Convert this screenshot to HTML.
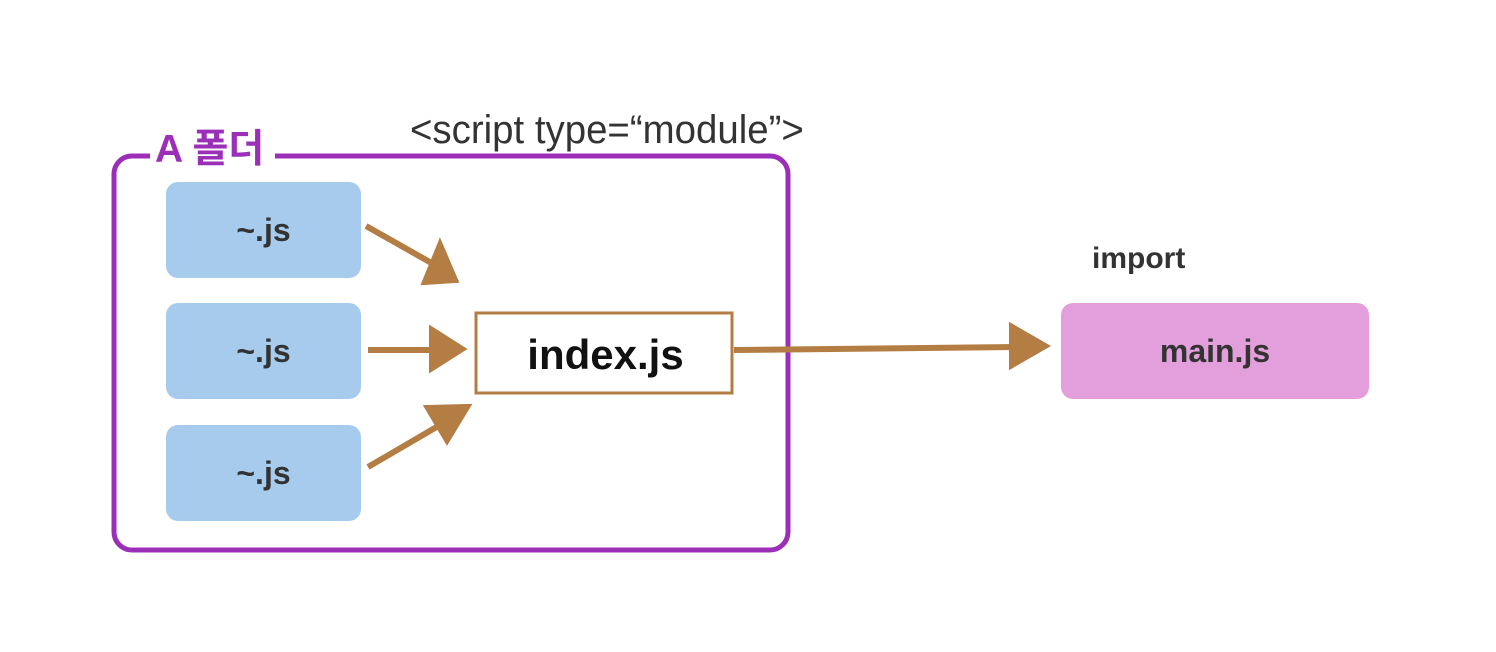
<!DOCTYPE html>
<html><head><meta charset="utf-8"><style>
body{margin:0;width:1496px;height:652px;background:#fff;position:relative;overflow:hidden;font-family:"Liberation Sans","Noto Sans CJK KR",sans-serif}
.b{position:absolute;background:#a6cbec;border-radius:12px;width:195px;height:96px;left:166px;display:flex;align-items:center;justify-content:center;font-weight:bold;font-size:32px;color:#333}
.t{position:absolute;white-space:nowrap}
</style></head><body>
<svg width="1496" height="652" style="position:absolute;left:0;top:0">
<rect x="114" y="156" width="674" height="394" rx="18" fill="none" stroke="#9b2fb8" stroke-width="5"/>
<rect x="150" y="140" width="125" height="25" fill="#fff"/>
<g stroke="#b47d43" stroke-width="6" fill="#b47d43">
<line x1="366" y1="226" x2="435" y2="265"/><polygon points="455,280 425,282 440,245"/>
<line x1="368" y1="350" x2="440" y2="350"/><polygon points="462,349 432,330 432,368"/>
<line x1="368" y1="467" x2="440" y2="425"/><polygon points="467,407 428,408 447,440"/>
<line x1="734" y1="350" x2="1020" y2="347"/><polygon points="1045,346 1012,327 1012,365"/>
</g>
<rect x="476" y="313" width="256" height="80" fill="#fff" stroke="#b47d43" stroke-width="3"/>
</svg>
<div class="t" style="left:155px;top:118px;font-size:39px;font-weight:bold;color:#9b2fb8">A 폴더</div>
<div class="t" style="left:410px;top:108px;font-size:40px;color:#333;transform:scaleX(0.96);transform-origin:0 0">&lt;script type=“module”&gt;</div>
<div class="b" style="top:182px">~.js</div>
<div class="b" style="top:303px">~.js</div>
<div class="b" style="top:425px">~.js</div>
<div class="t" style="left:476px;top:313px;width:259px;height:83px;display:flex;align-items:center;justify-content:center;font-size:42px;font-weight:bold;color:#111">index.js</div>
<div class="t" style="left:1092px;top:242px;font-size:30px;font-weight:bold;color:#333">import</div>
<div class="b" style="left:1061px;top:303px;width:308px;background:#e39fdc">main.js</div>
</body></html>
